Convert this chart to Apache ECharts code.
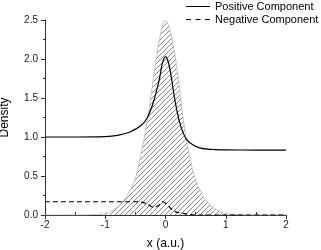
<!DOCTYPE html>
<html><head><meta charset="utf-8">
<script src="https://cdn.jsdelivr.net/npm/echarts@6/dist/echarts.min.js"></script>
<style>html,body{margin:0;padding:0;background:#fff}#c{width:321px;height:250px}</style>
</head><body><div id="c"></div>
<script>
// Data
const hatchX = [-2, -1.5, -1.2, -1.0, -0.9, -0.8, -0.7, -0.6, -0.5, -0.4, -0.3, -0.2, -0.1, 0, 0.1, 0.2, 0.3, 0.4, 0.5, 0.6, 0.7, 0.8, 0.9, 1.0, 1.2, 1.5, 2];
const hatchY = [0, 0, 0.005, 0.02, 0.05, 0.1, 0.18, 0.3, 0.47, 0.8, 1.22, 1.75, 2.25, 2.5, 2.28, 1.82, 1.2, 0.75, 0.45, 0.28, 0.16, 0.09, 0.05, 0.02, 0.005, 0, 0];
const posX = [-2, -1.5, -1.0, -0.8, -0.6, -0.4, -0.3, -0.2, -0.1, -0.05, 0, 0.05, 0.1, 0.15, 0.2, 0.25, 0.3, 0.35, 0.4, 0.5, 0.6, 0.7, 0.8, 1.0, 1.5, 2.0];
const posY = [1.0, 1.0, 1.005, 1.02, 1.06, 1.15, 1.25, 1.45, 1.75, 1.95, 2.03, 1.95, 1.75, 1.5, 1.3, 1.15, 1.04, 0.97, 0.93, 0.88, 0.855, 0.845, 0.84, 0.835, 0.833, 0.833];
const negX = [-2, -1, -0.5, -0.4, -0.3, -0.2, -0.12, -0.05, 0, 0.08, 0.17, 0.3, 0.4, 0.5, 1, 2];
const negY = [0.17, 0.17, 0.17, 0.165, 0.14, 0.1, 0.12, 0.17, 0.15, 0.09, 0.04, 0.02, 0.005, 0, 0, 0];
const xTicks = [-2, -1, 0, 1, 2];
const yTicks = [0, 0.5, 1, 1.5, 2, 2.5];
const seriesNames = ['Positive Component', 'Negative Component'];

const pair = (xs, ys) => xs.map((x, i) => [x, ys[i]]);

// hatch pattern
const pc = document.createElement('canvas');
pc.width = 5; pc.height = 5;
const g = pc.getContext('2d');
g.strokeStyle = '#7a7a7a';
g.lineWidth = 0.9;
g.beginPath();
g.moveTo(0, 5); g.lineTo(5, 0);
g.moveTo(-1, 1); g.lineTo(1, -1);
g.moveTo(4, 6); g.lineTo(6, 4);
g.stroke();

const font = 'Liberation Sans, Arial, sans-serif';
const chart = echarts.init(document.getElementById('c'), null, {renderer: 'canvas'});
chart.setOption({
  animation: false,
  grid: {left: 45, right: 35, top: 20, bottom: 35, containLabel: false, outerBoundsMode: 'none'},
  legend: {
    orient: 'vertical', left: 186, top: 0, padding: 0, itemWidth: 24, itemHeight: 1.3, itemGap: 0,
    textStyle: {fontFamily: font, fontSize: 11, color: '#000', lineHeight: 13},
    itemStyle: {color: '#000'},
    data: [
      {name: seriesNames[0], icon: 'path://M0,0h24v1h-24z'},
      {name: seriesNames[1], icon: 'path://M0,0h5v1h-5z M9.5,0h5v1h-5z M19,0h5v1h-5z'}
    ]
  },
  xAxis: {
    type: 'value', min: xTicks[0], max: xTicks[xTicks.length - 1], interval: 1,
    name: 'x (a.u.)', nameLocation: 'middle', nameGap: 23,
    nameTextStyle: {fontFamily: font, fontSize: 12, color: '#000'},
    axisLine: {show: true, onZero: false, lineStyle: {color: '#333', width: 1}},
    axisTick: {show: true, length: 4, lineStyle: {color: '#333'}},
    minorTick: {show: true, splitNumber: 2, length: -3, lineStyle: {color: '#333'}},
    axisLabel: {fontFamily: font, fontSize: 10, color: '#222', margin: 5, formatter: v => String(v)},
    splitLine: {show: false}
  },
  yAxis: {
    type: 'value', min: yTicks[0], max: yTicks[yTicks.length - 1], interval: 0.5,
    name: 'Density', nameLocation: 'middle', nameGap: 34,
    nameTextStyle: {fontFamily: font, fontSize: 12, color: '#000'},
    axisLine: {show: true, onZero: false, lineStyle: {color: '#333', width: 1}},
    axisTick: {show: true, length: 4, lineStyle: {color: '#333'}},
    minorTick: {show: true, splitNumber: 2, length: 2, lineStyle: {color: '#333'}},
    axisLabel: {fontFamily: font, fontSize: 10, color: '#222', margin: 7, formatter: v => v.toFixed(1)},
    splitLine: {show: false}
  },
  series: [
    {
      name: 'Gaussian', type: 'line', data: pair(hatchX, hatchY), smooth: 0.4, symbol: 'none',
      lineStyle: {color: '#b5b5b5', width: 0.8},
      areaStyle: {color: {image: pc, repeat: 'repeat'}, opacity: 1},
      z: 1
    },
    {
      name: seriesNames[0], type: 'line', data: pair(posX, posY), smooth: 0.4, symbol: 'none',
      lineStyle: {color: '#000', width: 1.2}, itemStyle: {color: '#000'}, z: 3
    },
    {
      name: seriesNames[1], type: 'line', data: pair(negX, negY), smooth: 0.3, symbol: 'none',
      lineStyle: {color: '#000', width: 1.2, type: [5, 3]}, itemStyle: {color: '#000'}, z: 3
    }
  ]
});
</script></body></html>
